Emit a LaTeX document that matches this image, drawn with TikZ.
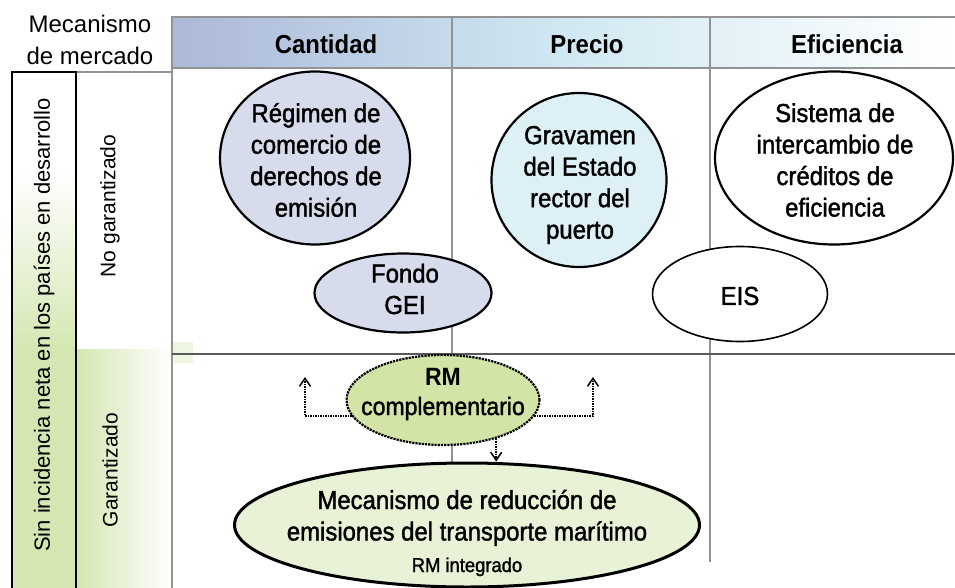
\documentclass[tikz,border=0pt]{standalone}
\usepackage{fontspec}
\setmainfont{Liberation Sans}
\newfontfamily\narrowfont[FakeStretch=0.92, FakeBold=1.5]{Liberation Sans}
\newfontfamily\headfont[FakeStretch=0.92]{Liberation Sans}
\usepackage{tikz}
\usetikzlibrary{shapes,arrows,arrows.meta}
\usetikzlibrary{positioning}
\definecolor{headleft}{RGB}{172,184,216}
\definecolor{headmid}{RGB}{208,232,242}
\definecolor{greenband}{RGB}{212,231,178}
\definecolor{regfill}{RGB}{214,220,235}
\definecolor{gravfill}{RGB}{220,240,245}
\definecolor{rmfill}{RGB}{211,229,166}
\definecolor{mrefill}{RGB}{232,242,214}
\tikzset{
    gridline/.style={draw=gray!85, line width=1.2pt},
    midline/.style={draw=black!65, line width=2pt},
    oval/.style={draw=black, ellipse, inner sep=0pt, line width=2.2pt},
    ovaltext/.style={font={\narrowfont\fontsize{26}{31.5}\selectfont}, align=center, inner sep=0pt},
    headtext/.style={font={\headfont\bfseries\fontsize{26}{30}\selectfont}, inner sep=0pt},
    sidetext/.style={font={\fontsize{21}{25}\selectfont}, rotate=90, inner sep=0pt},
    flow/.style={draw=black, densely dotted, line width=1.5pt, -{Straight Barb[length=8pt, width=11pt, line width=1.5pt]}},
}

\begin{document}
\begin{tikzpicture}[x=1pt, y=-1pt]
	\useasboundingbox (0,0) rectangle (955,588);
	% bands
	\shade[left color=headleft, right color=white, middle color=headmid] (172,17) rectangle (955,68);
	\shade[top color=white, bottom color=greenband] (12,170) rectangle (76,350);
	\fill[greenband] (12,350) rectangle (76,588);
	\shade[left color=greenband, right color=white] (76,349) rectangle (172,588);
	\fill[greenband!40] (172,342) rectangle (193,363);
	% grid
	\draw[gridline] (955,17) -- (172,17) -- (172,588);
	\draw[gridline] (172,68) -- (955,68);
	\draw[gridline] (452,17) -- (452,562);
	\draw[gridline] (710,17) -- (710,562);
	\draw[gridline] (76,72) -- (172,72);
	\draw[midline] (172,354) -- (955,354);
	\draw[black, line width=1.5pt] (12,588) -- (12,72) -- (76,72) -- (76,588);
	% ovals
	\node[oval, fill=regfill, minimum width=190, minimum height=173] (regimen) at (315,158) {};
	\node[oval, fill=regfill, minimum width=177, minimum height=79] (fondo) at (403,293) {};
	\node[oval, fill=gravfill, minimum width=175, minimum height=174] (gravamen) at (579,180) {};
	\node[oval, fill=white, minimum width=238, minimum height=173] (sistema) at (834,158) {};
	\node[oval, fill=white, line width=1.6pt, minimum width=175, minimum height=95] (eis) at (740,294) {};
	\node[oval, fill=rmfill, densely dotted, minimum width=193, minimum height=90] (rmc) at (443,400) {};
	\node[oval, fill=mrefill, line width=3pt, minimum width=465, minimum height=124] (mre) at (467,525) {};
	% texts
	\node[font={\fontsize{24}{32}\selectfont}, align=center, inner sep=0pt] (mecanismo) at (90,40) {Mecanismo\\de mercado};
	\node[headtext] (cantidad) at (326,44) {Cantidad};
	\node[headtext] (precio) at (587,44) {Precio};
	\node[headtext] (eficiencia) at (847,44) {Eficiencia};
	\node[sidetext, font={\fontsize{22}{26}\selectfont}] (sinincidencia) at (44,325) {Sin incidencia neta en los países en desarrollo};
	\node[sidetext] (nogarantizado) at (110,206) {No garantizado};
	\node[sidetext] (garantizado) at (110,470) {Garantizado};
	\node[ovaltext] (regimentext) at (316,160) {Régimen de\\comercio de\\derechos de\\emisión};
	\node[ovaltext] (fondotext) at (405,289) {Fondo\\GEI};
	\node[ovaltext] (gravamentext) at (580,185) {Gravamen\\del Estado\\rector del\\puerto};
	\node[ovaltext] (sistematext) at (835,160) {Sistema de\\intercambio de\\créditos de\\eficiencia};
	\node[ovaltext] (eistext) at (740,296) {EIS};
	\node[ovaltext, font={\narrowfont\fontsize{25}{30}\selectfont}] (rmctext) at (443,394) {{\headfont\bfseries RM}\\complementario};
	\node[ovaltext] (mretext) at (467,533) {Mecanismo de reducción de\\emisiones del transporte marítimo\\{\fontsize{20}{24}\selectfont RM integrado}};
	% arrows
	\coordinate (leftup) at (305,377);
	\coordinate (rightup) at (593,377);
	\draw[flow] (rmc.190) -| (leftup);
	\draw[flow] (rmc.350) -| (rightup);
	\draw[flow] (rmc.-36) -- (rmc.-36 |- mre.north);
\end{tikzpicture}
\end{document}
